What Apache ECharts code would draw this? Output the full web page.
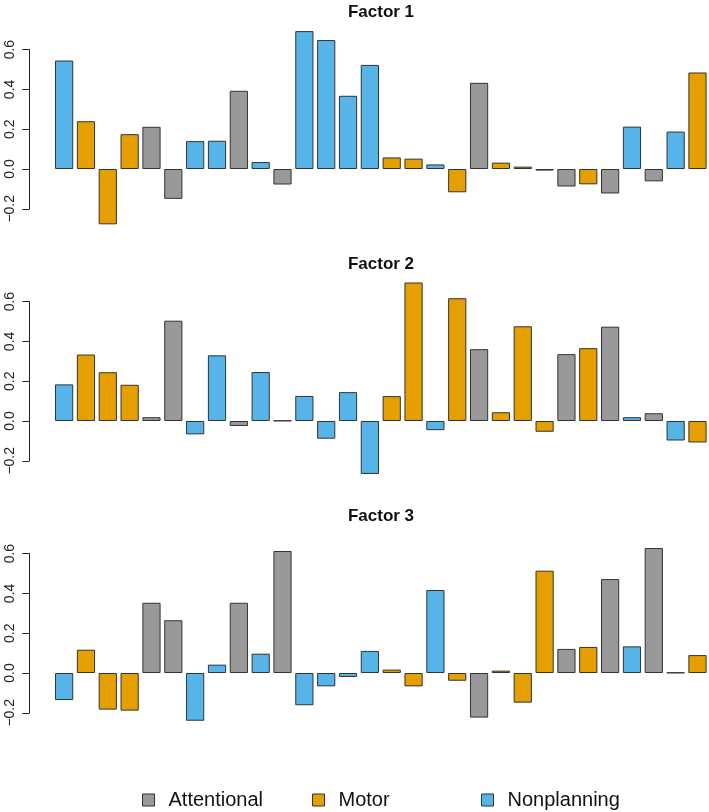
<!DOCTYPE html>
<html>
<head>
<meta charset="utf-8">
<script src="https://cdn.jsdelivr.net/npm/echarts@6/dist/echarts.min.js"></script>
<style>
  html, body { margin: 0; padding: 0; background: #fff; }
  #chart { width: 709px; height: 812px; }
</style>
</head>
<body>
<div id="chart"></div>
<script>
// item groups, one per bar
var groups = ["Nonplanning", "Motor", "Motor", "Motor", "Attentional", "Attentional",
  "Nonplanning", "Nonplanning", "Attentional", "Nonplanning", "Attentional",
  "Nonplanning", "Nonplanning", "Nonplanning", "Nonplanning", "Motor", "Motor",
  "Nonplanning", "Motor", "Attentional", "Motor", "Motor", "Motor", "Attentional",
  "Motor", "Attentional", "Nonplanning", "Attentional", "Nonplanning", "Motor"];

// loadings
var factor1 = [0.545, 0.24, -0.278, 0.175, 0.212, -0.15, 0.14, 0.142, 0.393, 0.035,
  -0.078, 0.693, 0.648, 0.368, 0.523, 0.058, 0.052, 0.023, -0.117, 0.433,
  0.032, 0.012, -0.008, -0.088, -0.077, -0.123, 0.213, -0.062, 0.188, 0.485];
var factor2 = [0.184, 0.334, 0.245, 0.182, 0.019, 0.504, -0.067, 0.33, -0.025, 0.246,
  0.002, 0.126, -0.089, 0.145, -0.266, 0.125, 0.696, -0.046, 0.617, 0.361,
  0.044, 0.476, -0.054, 0.336, 0.366, 0.474, 0.019, 0.039, -0.098, -0.108];
var factor3 = [-0.136, 0.117, -0.184, -0.189, 0.353, 0.265, -0.24, 0.042, 0.353, 0.097,
  0.613, -0.162, -0.067, -0.02, 0.111, 0.017, -0.067, 0.417, -0.039, -0.224,
  0.012, -0.149, 0.514, 0.121, 0.131, 0.472, 0.134, 0.628, 0.002, 0.09];

var panelTitles = ["Factor 1", "Factor 2", "Factor 3"];
var groupNames = ["Attentional", "Motor", "Nonplanning"];
var groupColors = ["#999999", "#E69F00", "#56B4E9"];

var FONT = "Liberation Sans, Arial, Helvetica, sans-serif";
var unit = 199;           // px per 1.0 loading
var panelStep = 252;
var zero0 = 169;          // y of 0.0 in first panel

var myChart = echarts.init(document.getElementById("chart"));
var panels = [factor1, factor2, factor3];
var idx = panels[0].map(function (_, i) { return String(i + 1); });

var grid = [], xAxis = [], yAxis = [], series = [], graphic = [];

panels.forEach(function (vals, p) {
  var zeroY = zero0 + panelStep * p;
  // bar grid
  grid.push({ left: 53.2, width: 655.2, top: zeroY - 0.75 * unit, height: 1.05 * unit });
  xAxis.push({ type: "category", gridIndex: 2 * p, data: idx, show: false });
  yAxis.push({ type: "value", gridIndex: 2 * p, min: -0.3, max: 0.75, show: false });
  // axis-only grid (R draws the axis line between first and last tick)
  grid.push({ left: 29.3, width: 10, top: zeroY - 0.6 * unit, height: 0.8 * unit });
  xAxis.push({ type: "value", gridIndex: 2 * p + 1, show: false, min: 0, max: 1 });
  yAxis.push({
    type: "value", gridIndex: 2 * p + 1, min: -0.2, max: 0.6, interval: 0.2,
    axisLine: { show: true, lineStyle: { color: "#222", width: 1 } },
    axisTick: { show: true, length: 7, lineStyle: { color: "#222" } },
    splitLine: { show: false },
    axisLabel: {
      rotate: 90, margin: 12, fontSize: 14, fontFamily: FONT, color: "#222",
      formatter: function (v) { return v.toFixed(1).replace("-", "\u2212"); }
    }
  });

  groupNames.forEach(function (g, k) {
    series.push({
      name: g,
      type: "bar",
      xAxisIndex: 2 * p,
      yAxisIndex: 2 * p,
      stack: "panel" + p,
      barCategoryGap: "16.67%",
      data: vals.map(function (v, i) { return groups[i] === g ? v : "-"; }),
      itemStyle: { color: groupColors[k], borderColor: "#333", borderWidth: 1 },
      emphasis: { disabled: true },
      animation: false
    });
  });

  graphic.push({
    type: "text",
    x: 381, y: 12 + panelStep * p,
    style: {
      text: panelTitles[p], textAlign: "center", textVerticalAlign: "middle",
      font: "bold 17px " + FONT, fill: "#111"
    }
  });
});

var legendLeft = [137, 307, 476];
var legend = groupNames.map(function (g, k) {
  return {
    data: [g],
    left: legendLeft[k],
    top: 785,
    icon: "rect",
    itemWidth: 12,
    itemHeight: 12,
    itemStyle: { borderColor: "#333", borderWidth: 1 },
    textStyle: { fontSize: 20, fontFamily: FONT, color: "#111", padding: [0, 0, 0, 9] },
    selectedMode: false
  };
});

myChart.setOption({
  animation: false,
  grid: grid,
  xAxis: xAxis,
  yAxis: yAxis,
  series: series,
  legend: legend,
  graphic: graphic
});
</script>
</body>
</html>
